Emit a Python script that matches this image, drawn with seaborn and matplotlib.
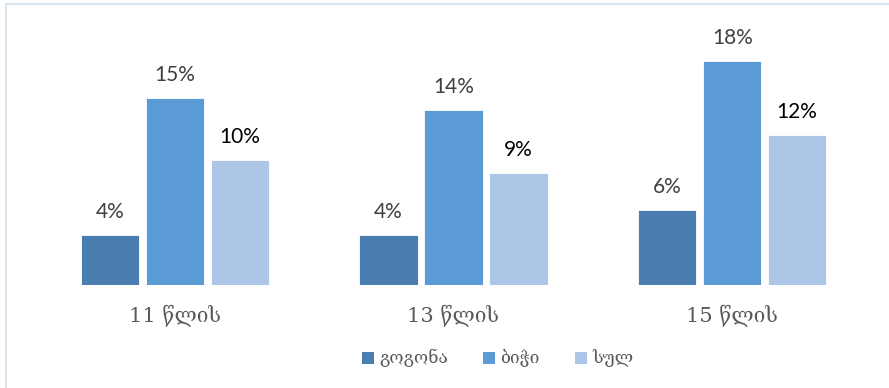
import matplotlib
matplotlib.use("Agg")
import matplotlib.pyplot as plt
from matplotlib.lines import Line2D
from matplotlib.patches import Rectangle
import seaborn as sns
import pandas as pd

# Data
categories = ["11 წლის", "13 წლის", "15 წლის"]
series = ["გოგონა", "ბიჭი", "სულ"]
girls = [4, 4, 6]
boys = [15, 14, 18]
total = [10, 9, 12]

colors = ["#4A7EB0", "#5B9BD5", "#ADC5E7"]
label_colors = ["#404040", "#404040", "#000000"]

rows = []
for s, vals in zip(series, [girls, boys, total]):
    for c, v in zip(categories, vals):
        rows.append({"age": c, "group": s, "value": v})
df = pd.DataFrame(rows)

sns.set_theme(style="white")
plt.rcParams["font.family"] = ["DejaVu Serif", "DejaVu Sans"]

W, H = 889, 388
fig = plt.figure(figsize=(W / 100, H / 100), dpi=100)
ax = fig.add_axes([0.0399, 0.2655, 0.9404, 0.6428])

sns.barplot(data=df, x="age", y="value", hue="group", order=categories,
            hue_order=series, palette=colors, saturation=1, width=0.7, gap=0.1,
            edgecolor="white", linewidth=0.6, ax=ax, legend=False)

ax.set_ylim(0, 20)
ax.set_xlim(-0.5, 2.5)
ax.set_xlabel("")
ax.set_ylabel("")
ax.set_yticks([])
for sp in ax.spines.values():
    sp.set_visible(False)
ax.tick_params(axis="x", length=0, pad=14, labelsize=15, labelcolor="#595959")

# value labels above each bar
for container, lc in zip(ax.containers, label_colors):
    for bar in container:
        h = bar.get_height()
        ax.annotate(f"{h:g}%", (bar.get_x() + bar.get_width() / 2, h),
                    xytext=(0, 12.2), textcoords="offset points",
                    ha="center", va="baseline", fontsize=15,
                    family=["Lato", "DejaVu Sans"], color=lc,
                    annotation_clip=False)

# legend row: colour swatch followed by its series name
swatch_x = [362, 483, 575]
for x0, c, name in zip(swatch_x, colors, series):
    fig.add_artist(Rectangle((x0 / W, 1 - 364 / H), 12 / W, 12 / H,
                             transform=fig.transFigure, facecolor=c,
                             edgecolor="none"))
    fig.text((x0 + 17) / W, 1 - 358 / H, name, ha="left", va="center",
             fontsize=12.5, color="#595959")

# thin frame lines along the top and left edges
fig.add_artist(Line2D([6 / W, 1], [1 - 4 / H, 1 - 4 / H],
                      transform=fig.transFigure, color="#DCE6F2", lw=1.5))
fig.add_artist(Line2D([6 / W, 6 / W], [0, 1 - 4 / H],
                      transform=fig.transFigure, color="#DCE6F2", lw=1.5))

fig.savefig("out.png", dpi=100)
